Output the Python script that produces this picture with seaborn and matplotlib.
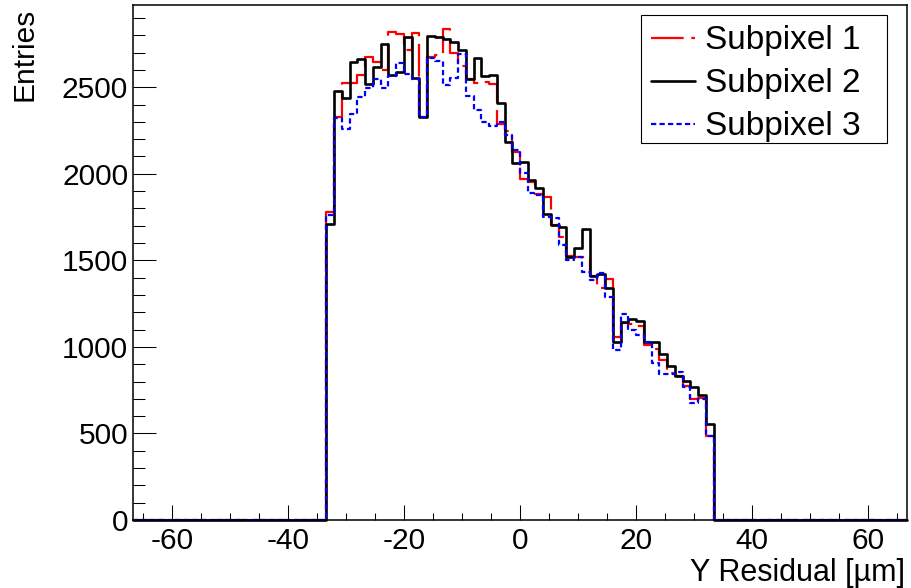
import numpy as np
import pandas as pd
import matplotlib
matplotlib.use("Agg")
import matplotlib.pyplot as plt
from matplotlib.lines import Line2D
from matplotlib.patches import Rectangle
from matplotlib.ticker import MultipleLocator
import seaborn as sns

# Binning of the residual histograms: 100 bins over [-200/3, 200/3] um,
# only the central 50 bins (|y| < 100/3 um) are populated.
x_low, x_high, n_bins = -200.0 / 3.0, 200.0 / 3.0, 100
first_filled = 25

labels = ["Subpixel 1", "Subpixel 2", "Subpixel 3"]

subpixel_1 = [1780, 2330, 2525, 2525, 2569, 2672, 2646, 2600, 2820, 2810,
              2714, 2815, 2330, 2675, 2685, 2837, 2700, 2623, 2545, 2525,
              2530, 2520, 2285, 2250, 2127, 1968, 1953, 1886, 1867, 1707,
              1636, 1524, 1520, 1520, 1409, 1338, 1395, 1058, 1140, 1132,
              1118, 1010, 985, 925, 850, 830, 775, 700, 705, 485]

subpixel_2 = [1709, 2477, 2435, 2643, 2662, 2521, 2614, 2748, 2573, 2589,
              2791, 2556, 2327, 2796, 2790, 2777, 2762, 2714, 2550, 2670,
              2564, 2573, 2410, 2181, 2065, 2069, 1963, 1919, 1770, 1707,
              1692, 1522, 1569, 1679, 1412, 1419, 1338, 1030, 1145, 1164,
              1149, 1030, 1030, 957, 891, 831, 803, 766, 724, 552]

subpixel_3 = [1760, 2323, 2261, 2348, 2445, 2495, 2550, 2495, 2562, 2642,
              2575, 2550, 2329, 2666, 2650, 2512, 2556, 2690, 2448, 2367,
              2300, 2277, 2300, 2223, 2136, 2002, 1890, 1880, 1751, 1745,
              1588, 1501, 1520, 1434, 1386, 1424, 1289, 982, 1191, 1097,
              1068, 1030, 905, 845, 845, 856, 766, 674, 700, 485]

y_max = 2975

colors = ["#ff0000", "#000000", "#0000ff"]
line_widths = [1.6, 1.9, 1.6]          # points
line_styles = [(0, (23.5, 5.5)), "-", (0, (3.8, 2.3))]

plt.rcParams["lines.scale_dashes"] = False
sns.set_style("ticks")
plt.rcParams["font.family"] = ["Liberation Sans", "DejaVu Sans"]
plt.rcParams["axes.unicode_minus"] = False
plt.rcParams["text.color"] = "black"
plt.rcParams["axes.labelcolor"] = "black"

edges = np.linspace(x_low, x_high, n_bins + 1)
centers = 0.5 * (edges[:-1] + edges[1:])

frame = {"residual": centers}
for name, vals in zip(labels, [subpixel_1, subpixel_2, subpixel_3]):
    full = np.zeros(n_bins)
    full[first_filled:first_filled + len(vals)] = vals
    frame[name] = full
df = pd.DataFrame(frame)

fig = plt.figure(figsize=(9.11, 5.88), dpi=100)
ax = fig.add_axes([133 / 911, 68 / 588, 774 / 911, 515 / 588])

for name, col, lw, ls in zip(labels, colors, line_widths, line_styles):
    sns.histplot(data=df, x="residual", weights=name, bins=n_bins,
                 binrange=(x_low, x_high), element="step", fill=False,
                 color=col, linewidth=lw, linestyle=ls, clip_on=False, ax=ax)

ax.set_xlim(x_low, x_high)
ax.set_ylim(0, y_max)

ax.xaxis.set_major_locator(MultipleLocator(20))
ax.xaxis.set_minor_locator(MultipleLocator(5))
ax.yaxis.set_major_locator(MultipleLocator(500))
ax.yaxis.set_minor_locator(MultipleLocator(100))

for side in ["top", "right", "left", "bottom"]:
    ax.spines[side].set_visible(True)
    ax.spines[side].set_color("black")
    ax.spines[side].set_linewidth(1.1)

ax.tick_params(axis="both", which="both", direction="in", top=False,
               right=False, colors="black", width=0.75, labelsize=21.5)
ax.tick_params(axis="x", which="major", length=10.5, pad=5)
ax.tick_params(axis="x", which="minor", length=5.2)
ax.tick_params(axis="y", which="major", length=16.5, pad=3.5)
ax.tick_params(axis="y", which="minor", length=8.4)

ax.set_xlabel("Y Residual [µm]", fontsize=22, loc="right", color="black")
ax.set_ylabel("Entries", fontsize=21.5, loc="top", color="black")
ax.xaxis.set_label_coords(0.9975, -0.074)
ax.yaxis.set_label_coords(-0.122, 0.995)

# legend box
box = Rectangle((0.656, 0.732), 0.318, 0.249, transform=ax.transAxes,
                facecolor="white", edgecolor="black", linewidth=0.8,
                zorder=4.5)
ax.add_patch(box)
handles = [Line2D([], [], color=c, linewidth=w, linestyle=s)
           for c, w, s in zip(colors, line_widths, line_styles)]
leg = ax.legend(handles, labels, loc="upper left",
                bbox_to_anchor=(0.656, 0.981), borderaxespad=0,
                frameon=False, fontsize=24, handlelength=1.3,
                handletextpad=0.3, borderpad=0.32, labelspacing=0.36)
for t in leg.get_texts():
    t.set_color("black")

fig.savefig("out.png", dpi=100, facecolor="white")
